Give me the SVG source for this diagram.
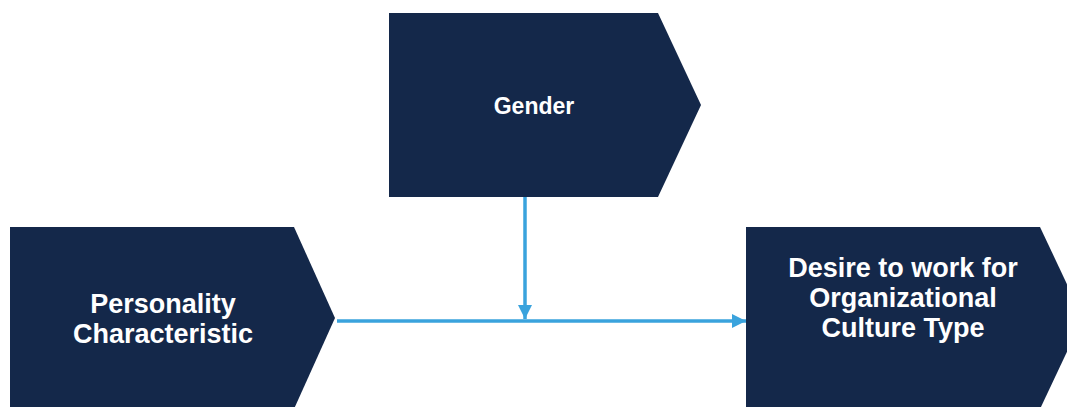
<svg xmlns="http://www.w3.org/2000/svg" width="1067" height="407" viewBox="0 0 1067 407">
<style>
.node{fill:#14284a}
.lbl{fill:#ffffff;font-family:"Liberation Sans",Arial,sans-serif;font-weight:bold;text-anchor:middle}
.conn{stroke:#3aa3dd;stroke-width:3.5;fill:none}
</style>
<defs>
<marker id="ah" viewBox="0 0 10 10" refX="10" refY="5" markerWidth="17" markerHeight="14" markerUnits="userSpaceOnUse" orient="auto">
<path d="M0,0 L10,5 L0,10 Z" fill="#3aa3dd"/>
</marker>
</defs>
<rect width="1067" height="407" fill="#ffffff"/>
<g id="gender">
<polygon class="node" points="389,13 658,13 701,105 658,197 389,197"/>
<text class="lbl" x="534" y="114" font-size="23">Gender</text>
</g>
<g id="personality">
<polygon class="node" points="10,227 294,227 335,318 294,409 10,409"/>
<text class="lbl" x="163" y="313" font-size="27">Personality</text>
<text class="lbl" x="163" y="343" font-size="27">Characteristic</text>
</g>
<g id="desire">
<polygon class="node" points="746,227 1040,227 1083,318 1040,409 746,409"/>
<text class="lbl" x="903" y="277" font-size="27">Desire to work for</text>
<text class="lbl" x="903" y="307" font-size="27">Organizational</text>
<text class="lbl" x="903" y="337" font-size="27">Culture Type</text>
</g>
<g id="connectors">
<line class="conn" x1="337" y1="321" x2="746" y2="321" marker-end="url(#ah)"/>
<line class="conn" x1="525" y1="197" x2="525" y2="319" marker-end="url(#ah)"/>
</g>
</svg>
